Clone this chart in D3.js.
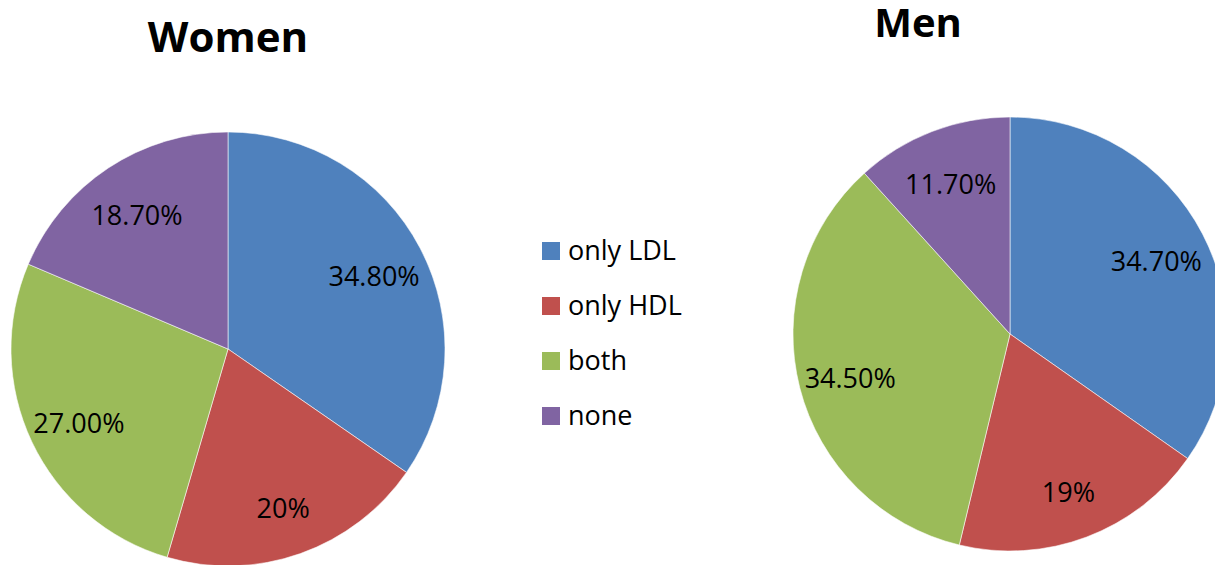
<!DOCTYPE html>
<html>
<head>
<meta charset="utf-8">
<script src="https://cdn.jsdelivr.net/npm/d3@7/dist/d3.min.js"></script>
<style>
  html, body { margin: 0; padding: 0; background: #fff; overflow: hidden; }
  svg { display: block; }
</style>
</head>
<body>
<svg id="chart" width="1215" height="565"></svg>
<script>
// Lipid abnormality groups, shared by both pies and the legend
const categories = ["only LDL", "only HDL", "both", "none"];
const colors = ["#4F81BD", "#C0504D", "#9BBB59", "#8064A2"];

// Percentages for each group, with the labels as printed on the slices
const womenValues = [34.8, 20, 27.0, 18.7];
const womenLabels = ["34.80%", "20%", "27.00%", "18.70%"];
const menValues = [34.7, 19, 34.5, 11.7];
const menLabels = ["34.70%", "19%", "34.50%", "11.70%"];

const svg = d3.select("#chart");
const font = "'Open Sans', 'Noto Sans', sans-serif";

const color = d3.scaleOrdinal().domain(categories).range(colors);

const pie = d3.pie().sort(null).value(d => d.value);

function drawPie(cfg) {
  const data = categories.map((c, i) => ({ cat: c, value: cfg.values[i], label: cfg.labels[i] }));
  const arcs = pie(data);
  const arc = d3.arc().innerRadius(0).outerRadius(cfg.r);
  const labelArc = d3.arc().innerRadius(cfg.r * 0.76).outerRadius(cfg.r * 0.76);

  const g = svg.append("g").attr("transform", `translate(${cfg.cx},${cfg.cy})`);

  g.selectAll("path")
    .data(arcs)
    .join("path")
    .attr("d", arc)
    .attr("fill", d => color(d.data.cat))
    .attr("stroke", "#ffffff")
    .attr("stroke-opacity", 0.7)
    .attr("stroke-width", 0.8);

  g.selectAll("text")
    .data(arcs)
    .join("text")
    .attr("transform", d => `translate(${labelArc.centroid(d)})`)
    .attr("text-anchor", "middle")
    .attr("dy", "0.5em")
    .attr("font-family", font)
    .attr("font-size", 27)
    .attr("fill", "#000")
    .text(d => d.data.label);

  svg.append("text")
    .attr("x", cfg.titleX)
    .attr("y", cfg.titleY)
    .attr("text-anchor", "middle")
    .attr("font-family", font)
    .attr("font-weight", "bold")
    .attr("font-size", cfg.titleSize)
    .attr("fill", "#000")
    .text(cfg.title);
}

drawPie({ title: "Women", values: womenValues, labels: womenLabels,
          cx: 228, cy: 349, r: 217, titleX: 228, titleY: 52, titleSize: 42 });
drawPie({ title: "Men", values: menValues, labels: menLabels,
          cx: 1010, cy: 334, r: 217, titleX: 918, titleY: 37, titleSize: 40 });

// Legend
const legendY = d3.scalePoint().domain(categories).range([251, 416]);
const legend = svg.append("g").attr("transform", "translate(542,0)");
const item = legend.selectAll("g")
  .data(categories)
  .join("g")
  .attr("transform", d => `translate(0,${legendY(d)})`);
item.append("rect")
  .attr("x", 0).attr("y", -9)
  .attr("width", 18).attr("height", 18)
  .attr("fill", d => color(d));
item.append("text")
  .attr("x", 26)
  .attr("dy", "0.35em")
  .attr("font-family", font)
  .attr("font-size", 27)
  .attr("fill", "#000")
  .text(d => d);
</script>
</body>
</html>
